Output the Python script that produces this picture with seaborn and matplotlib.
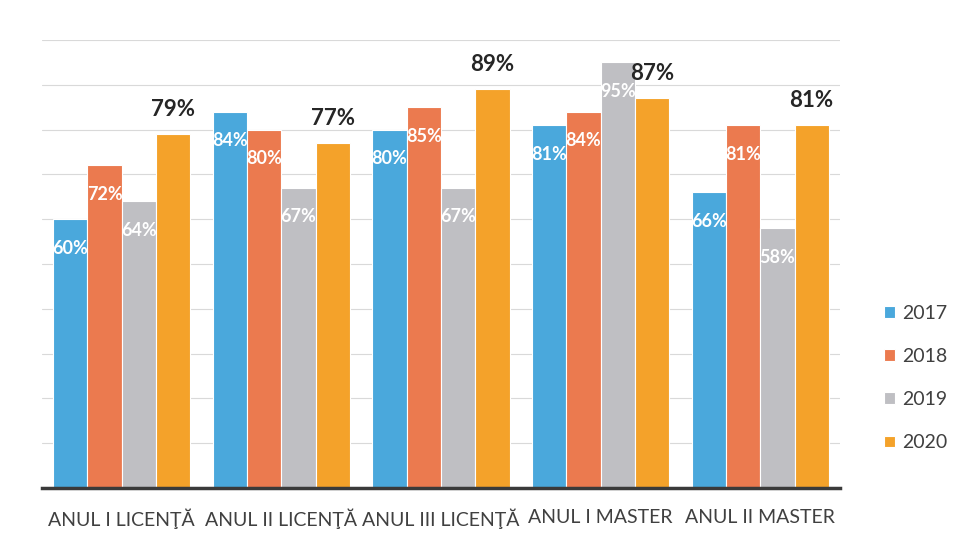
import matplotlib
matplotlib.use("Agg")
import matplotlib.pyplot as plt
import seaborn as sns
import pandas as pd

categories = ["ANUL I LICENŢĂ", "ANUL II LICENŢĂ", "ANUL III LICENŢĂ", "ANUL I MASTER", "ANUL II MASTER"]
years = ["2017", "2018", "2019", "2020"]
v2017 = [60, 84, 80, 81, 66]
v2018 = [72, 80, 85, 84, 81]
v2019 = [64, 67, 67, 95, 58]
v2020 = [79, 77, 89, 87, 81]
colors = ["#4AA8DC", "#EB7A4F", "#BFBFC3", "#F4A22A"]

series = {"2017": v2017, "2018": v2018, "2019": v2019, "2020": v2020}
rows = []
for y in years:
    for c, v in zip(categories, series[y]):
        rows.append({"cat": c, "year": y, "val": v})
df = pd.DataFrame(rows)

sns.set_theme(style="white")
plt.rcParams["font.family"] = ["Lato", "DejaVu Sans"]

fig = plt.figure(figsize=(9.56, 5.41), dpi=100)
ax = fig.add_axes([42/956, 1-488/541, (840-42)/956, (488-40)/541])

sns.barplot(data=df, x="cat", y="val", hue="year", order=categories, hue_order=years,
            palette=colors, saturation=1, width=0.86, edgecolor="white", linewidth=0.8,
            ax=ax, legend=True)

ax.set_ylim(0, 100)
ax.set_xlim(-0.5, 4.5)
ax.set_yticks(range(10, 101, 10))
ax.yaxis.grid(True, color="#d9d9d9", linewidth=0.8)
ax.set_axisbelow(True)
ax.tick_params(axis="y", left=False, labelleft=False)
ax.tick_params(axis="x", bottom=False, labelsize=14, colors="#404040", pad=9)
ax.set_xlabel("")
ax.set_ylabel("")
for s in ["top", "left", "right"]:
    ax.spines[s].set_visible(False)
ax.spines["bottom"].set_color("#3a3a3a")
ax.spines["bottom"].set_linewidth(2.5)

for i, cont in enumerate(ax.containers):
    vals = series[years[i]]
    labels = [f"{v}%" for v in vals]
    if i < 3:
        ax.bar_label(cont, labels=labels, padding=-27, color="white", fontsize=13, fontweight="bold")
    else:
        ax.bar_label(cont, labels=labels, padding=10, color="#262626", fontsize=16, fontweight="bold")

handles, labs = ax.get_legend_handles_labels()
ax.legend(handles, labs, loc="center left", bbox_to_anchor=(884/956, 1-378/541),
          bbox_transform=fig.transFigure, frameon=False, fontsize=14,
          handlelength=0.55, handleheight=0.55, handletextpad=0.4,
          labelspacing=1.35, labelcolor="#404040", borderpad=0, borderaxespad=0)

fig.savefig("out.png", dpi=100, facecolor="white")
